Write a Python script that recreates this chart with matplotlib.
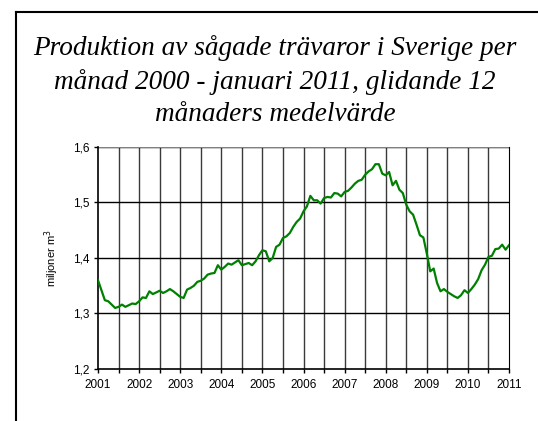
import numpy as np
import matplotlib.pyplot as plt
from matplotlib.lines import Line2D

# 12-month moving average, monthly, Jan 2001 - Jan 2011 (million m3)
start_year = 2001
values = [
    1.360, 1.342, 1.324, 1.322, 1.316, 1.310, 1.312, 1.316, 1.312, 1.315, 1.318, 1.317,
    1.322, 1.329, 1.328, 1.340, 1.335, 1.338, 1.341, 1.337, 1.340, 1.344, 1.340, 1.335,
    1.330, 1.328, 1.343, 1.346, 1.350, 1.357, 1.359, 1.363, 1.370, 1.372, 1.373, 1.387,
    1.379, 1.384, 1.390, 1.388, 1.392, 1.396, 1.387, 1.389, 1.391, 1.387, 1.394, 1.405,
    1.414, 1.412, 1.394, 1.400, 1.420, 1.424, 1.436, 1.439, 1.445, 1.456, 1.465, 1.471,
    1.484, 1.493, 1.512, 1.504, 1.504, 1.498, 1.508, 1.510, 1.509, 1.517, 1.516, 1.511,
    1.519, 1.521, 1.527, 1.534, 1.539, 1.541, 1.550, 1.556, 1.560, 1.569, 1.569, 1.552,
    1.549, 1.555, 1.531, 1.539, 1.523, 1.517, 1.496, 1.484, 1.478, 1.460, 1.441, 1.437,
    1.408, 1.376, 1.381, 1.355, 1.340, 1.344, 1.339, 1.335, 1.331, 1.328, 1.333, 1.342,
    1.337, 1.344, 1.352, 1.362, 1.378, 1.388, 1.402, 1.404, 1.416, 1.417, 1.424, 1.415,
    1.423,
]
yticks = [1.2, 1.3, 1.4, 1.5, 1.6]
ytick_labels = ['1,2', '1,3', '1,4', '1,5', '1,6']

title = ('Produktion av sågade trävaror i Sverige per\n'
         'månad 2000 - januari 2011, glidande 12\n'
         'månaders medelvärde')

x = start_year + np.arange(len(values)) / 12.0

plt.rcParams['font.family'] = ['Liberation Sans', 'DejaVu Sans']

fig = plt.figure(figsize=(5.38, 4.21), dpi=100)
ax = fig.add_axes([98 / 538, 52 / 421, 411 / 538, 222 / 421])

# outer frame (only top and left visible in the crop)
fig.add_artist(Line2D([16 / 538, 16 / 538], [0, 1 - 12 / 421],
                      transform=fig.transFigure, color='black', lw=1.5))
fig.add_artist(Line2D([16 / 538, 1], [1 - 12 / 421, 1 - 12 / 421],
                      transform=fig.transFigure, color='black', lw=1.5))

fig.text(275 / 538, 1 - 81 / 421, title, ha='center', va='center',
         family='Liberation Serif', style='italic', fontsize=19.6,
         linespacing=1.38)

# half-year grid
for v in np.arange(2001.5, 2011, 0.5):
    ax.axvline(v, color='#3a3a3a', lw=1.0, zorder=1)
for v in yticks[1:]:
    ax.axhline(v, color='black', lw=1.0, zorder=1)
ax.axhline(1.6, color='#808080', lw=1.5, zorder=1)

ax.plot(x, values, color='#008000', lw=1.6, zorder=3)

xt = np.arange(2001, 2011.01, 0.5)
ax.set_xlim(2001, 2011)
ax.set_ylim(1.2, 1.6)
ax.set_xticks(xt)
ax.set_xticklabels([str(int(t)) if t == int(t) else '' for t in xt])
ax.set_yticks(yticks)
ax.set_yticklabels(ytick_labels)
ax.tick_params(axis='both', direction='out', length=3, width=1, labelsize=8.5,
               pad=3, colors='black')
ax.tick_params(axis='x', pad=4)

ax.spines['top'].set_visible(False)
ax.spines['right'].set_color('black')
for s in ['left', 'bottom']:
    ax.spines[s].set_color('black')
    ax.spines[s].set_linewidth(1.2)

ax.set_ylabel('miljoner m$^3$', fontsize=8, labelpad=9)

fig.savefig('out.png', dpi=100)
